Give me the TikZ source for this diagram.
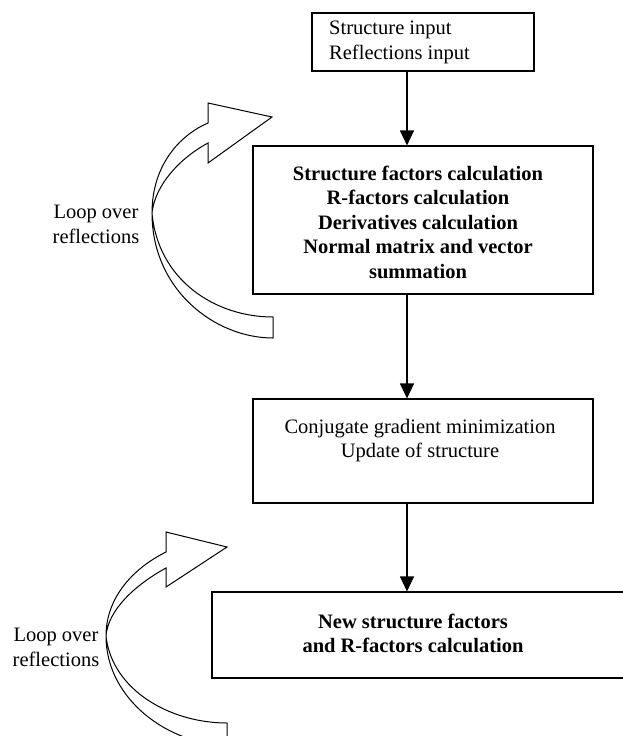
\documentclass[tikz,border=0pt]{standalone}
\usepackage{fontspec}
\setmainfont{Liberation Serif}
\usetikzlibrary{arrows.meta}
\begin{document}
\begin{tikzpicture}[x=1pt,y=-1pt,
  box/.style={draw,line width=1.1pt,rectangle,inner sep=0pt},
  txt/.style={font=\fontsize{20.5}{24.5}\selectfont,inner sep=0pt,align=center},
  flow/.style={line width=1.1pt,-{Triangle[length=15pt,width=14pt]}},
  loop/.style={line width=1pt,line join=miter}]
\useasboundingbox (0,0) rectangle (623,736);
% boxes
\node[box,minimum width=222pt,minimum height=58pt] (b1) at (423,42) {};
\node[box,minimum width=340pt,minimum height=148pt] (b2) at (423,220) {};
\node[box,minimum width=340pt,minimum height=104pt] (b3) at (423,451) {};
\node[box,minimum width=413pt,minimum height=86pt] (b4) at (418.5,635) {};
% texts
\node[txt,align=left,anchor=west] (t1) at (329,42.5) {Structure input\\Reflections input};
\node[txt,font=\fontsize{20.5}{24.5}\selectfont\bfseries] (t2) at (418,222) {Structure factors calculation\\R-factors calculation\\Derivatives calculation\\Normal matrix and vector\\summation};
\node[txt] (t3) at (420,440.5) {Conjugate gradient minimization\\Update of structure};
\node[txt,font=\fontsize{20.5}{24.5}\selectfont\bfseries] (t4) at (413,633.5) {New structure factors\\and R-factors calculation};
\node[txt] (l1) at (96,224.5) {Loop over\\reflections};
\node[txt] (l2) at (56,647.5) {Loop over\\reflections};
% flow arrows
\coordinate (ax) at (407,0);
\draw[flow] (b1.south -| ax) -- (b2.north -| ax);
\draw[flow] (b2.south -| ax) -- (b3.north -| ax);
\draw[flow] (b3.south -| ax) -- (b4.north -| ax);
% loop arrows
\draw[loop] (273,338) -- (273,317) .. controls (215,317) and (158,280) .. (152,213)
  .. controls (155,185) and (180,158) .. (208,143) -- (208,163) -- (272,117) -- (208,103) -- (208,123)
  .. controls (180,135) and (152,165) .. (152,213) .. controls (152,290) and (215,338) .. cycle;
\draw[loop] (227,745) -- (227,723) .. controls (170,723) and (112,690) .. (106,636)
  .. controls (108,610) and (135,585) .. (166,568) -- (166,587) -- (227,547) -- (166,532) -- (166,552)
  .. controls (130,570) and (106,600) .. (106,636) .. controls (106,700) and (170,745) .. cycle;
\end{tikzpicture}
\end{document}
